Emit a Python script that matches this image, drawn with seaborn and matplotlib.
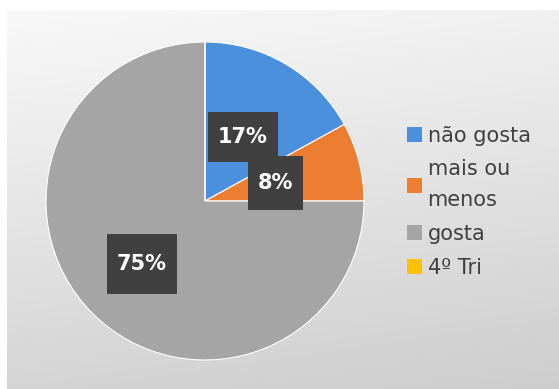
import numpy as np
import matplotlib
matplotlib.use("Agg")
import matplotlib.pyplot as plt
import seaborn as sns
from matplotlib.patches import Patch, Rectangle

categories = ["não gosta", "mais ou\nmenos", "gosta", "4º Tri"]
values = [17, 8, 75, 0]
colors = ["#4a90dc", "#ed7d31", "#a5a5a5", "#ffc000"]

sns.set_theme(style="white")
plt.rcParams["font.family"] = ["DejaVu Sans"]
palette = sns.color_palette(colors)

W, H = 559, 389
fig = plt.figure(figsize=(W / 100, H / 100), dpi=100)
fig.patch.set_facecolor("white")

# gradient background panel
bg = fig.add_axes([7 / W, 0, 1 - 7 / W, (H - 10) / H])
grad_v = np.linspace(0.975, 0.835, 256)[:, None]
grad_h = np.linspace(0.0, -0.03, 256)[None, :]
g = np.clip(grad_v + grad_h, 0, 1)
bg.imshow(np.dstack([g, g, g]), aspect="auto", extent=[0, 1, 0, 1])
bg.set_axis_off()

# pie
cx, cy, r = 205, H - 201, 159
ax = fig.add_axes([(cx - r) / W, (cy - r) / H, 2 * r / W, 2 * r / H])
wedges, _ = ax.pie(values, colors=palette, startangle=90, counterclock=False,
                   wedgeprops=dict(edgecolor="white", linewidth=0.8))
ax.set_xlim(-1, 1)
ax.set_ylim(-1, 1)
ax.set_axis_off()

dist = [0.47, 0.46, 0.56, 0.5]
box_px = [(70, 50), (55, 54), (70, 60), (60, 50)]
total = sum(values)
for w, v, d, (bw, bh) in zip(wedges, values, dist, box_px):
    if v <= 0:
        continue
    ang = np.deg2rad((w.theta1 + w.theta2) / 2)
    x, y = d * np.cos(ang), d * np.sin(ang)
    px, py = ax.transData.transform((x, y))
    rect = Rectangle((px - bw / 2, py - bh / 2), bw, bh, transform=None,
                     facecolor="#404040", edgecolor="none", zorder=3)
    ax.add_artist(rect)
    ax.text(x, y, f"{v / total * 100:.0f}%", ha="center", va="center",
            color="white", fontsize=15, fontweight="bold", zorder=5)

handles = [Patch(facecolor=c, edgecolor="none") for c in palette]
leg = fig.legend(handles, categories, loc="upper left",
                 bbox_to_anchor=(388 / W, 1 - 107 / H), frameon=False,
                 fontsize=15, handlelength=0.75, handleheight=0.75,
                 handletextpad=0.25, labelspacing=0.65, labelcolor="#404040")
for t in leg.get_texts():
    t.set_linespacing(1.7)

fig.savefig("out.png", dpi=100)
